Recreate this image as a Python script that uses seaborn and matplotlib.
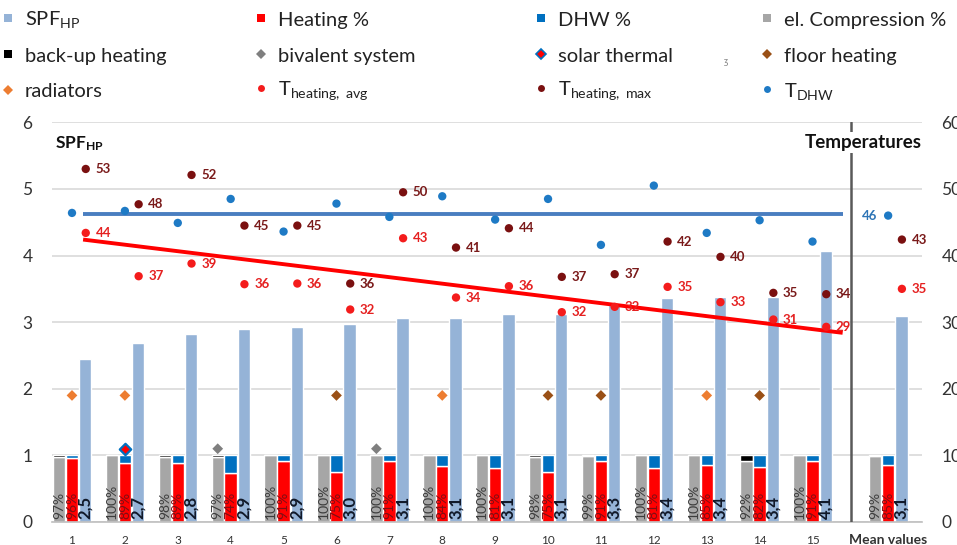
import numpy as np
import matplotlib
matplotlib.use("Agg")
import matplotlib.pyplot as plt
from matplotlib.lines import Line2D
import seaborn as sns

sns.set_style("white")
plt.rcParams['font.family'] = ['Lato', 'DejaVu Sans']
plt.rcParams['mathtext.fontset'] = 'custom'
plt.rcParams['mathtext.rm'] = 'Lato'
plt.rcParams['mathtext.bf'] = 'Lato:bold'
plt.rcParams['mathtext.it'] = 'Lato:italic'

# data (15 heat pumps + mean values)
categories = [str(i) for i in range(1, 16)] + ["Mean values"]
spf = [2.45, 2.68, 2.82, 2.90, 2.93, 2.97, 3.06, 3.07, 3.13, 3.13, 3.28, 3.37, 3.38, 3.38, 4.07, 3.10]
spf_labels = ["2,5", "2,7", "2,8", "2,9", "2,9", "3,0", "3,1", "3,1", "3,1", "3,1",
              "3,3", "3,4", "3,4", "3,4", "4,1", "3,1"]
compression = [97, 100, 98, 97, 100, 100, 100, 100, 100, 98, 99, 100, 100, 92, 100, 99]
backup = [3, 0, 2, 3, 0, 0, 0, 0, 0, 2, 1, 0, 0, 8, 0, 1]
heating = [96, 89, 89, 74, 91, 75, 91, 84, 81, 75, 91, 81, 85, 82, 91, 85]
dhw = [4, 11, 11, 26, 9, 25, 9, 16, 19, 25, 9, 19, 15, 18, 9, 15]

t_dhw = [46.4, 46.7, 44.9, 48.5, 43.6, 47.8, 45.8, 48.9, 45.4, 48.5, 41.6, 50.5, 43.4, 45.3, 42.1, 46.0]
t_max = [53.0, 47.7, 52.1, 44.5, 44.5, 35.8, 49.5, 41.2, 44.1, 36.8, 37.2, 42.1, 39.8, 34.4, 34.2, 42.4]
t_max_labels = [53, 48, 52, 45, 45, 36, 50, 41, 44, 37, 37, 42, 40, 35, 34, 43]
t_avg = [43.4, 36.9, 38.8, 35.7, 35.8, 31.9, 42.6, 33.7, 35.4, 31.5, 32.3, 35.3, 33.0, 30.4, 29.3, 35.0]
t_avg_labels = [44, 37, 39, 36, 36, 32, 43, 34, 36, 32, 32, 35, 33, 31, 29, 35]
t_dhw_mean_label = 46

# trend lines (start / end values, temperature axis)
dhw_trend = [46.2, 46.2]
avg_trend = [42.4, 28.4]

# system markers (category numbers)
radiators = [1, 2, 8, 13]
floor_heating = [6, 10, 11, 14]
bivalent = [4, 7]
solar_thermal = [2]
emitter_level = 1.9
system_level = 1.1

# colours
c_spf = '#95B3D7'
c_heat = '#FF0000'
c_dhw = '#0070C0'
c_comp = '#A6A6A6'
c_backup = '#000000'
c_biv = '#7F7F7F'
c_floor = '#9A5016'
c_rad = '#ED7D31'
c_tavg = '#F41C1C'
c_tmax = '#7A1010'
c_tdhw = '#1E7AC5'

pos = np.array(list(range(15)) + [15.43])
w = 0.235
off_l, off_r = -0.245, 0.25

fig = plt.figure(figsize=(9.57, 5.45), dpi=100)
ax = fig.add_axes([52 / 957, 1 - 522 / 545, 870 / 957, 400 / 545])
ax.set_xlim(-0.378, 16.07)
ax.set_ylim(0, 6.005)

comp = np.array(compression) / 100
ax.bar(pos + off_l, comp, w, color=c_comp, zorder=2)
ax.bar(pos + off_l, np.array(backup) / 100, w, bottom=comp, color=c_backup, zorder=2)
heat = np.array(heating) / 100
ax.bar(pos, heat, w, color=c_heat, zorder=2)
ax.bar(pos, np.array(dhw) / 100, w, bottom=heat, color=c_dhw, zorder=2)
ax.bar(pos + off_r, spf, w, color=c_spf, zorder=2)

for p, cv, hv, sl in zip(pos, compression, heating, spf_labels):
    ax.text(p + off_l, 0.05, f"{cv}%", rotation=90, ha='center', va='bottom',
            fontsize=10, color='#3C3C3C', zorder=4)
    ax.text(p, 0.05, f"{hv}%", rotation=90, ha='center', va='bottom',
            fontsize=10, color='#7E0E14', zorder=4)
    ax.text(p + off_r, 0.05, sl, rotation=90, ha='center', va='bottom',
            fontsize=12, fontweight='bold', color='#101828', zorder=4)

# emitter / system markers
sns.scatterplot(x=[pos[c - 1] for c in radiators], y=[emitter_level] * len(radiators), ax=ax,
                marker='D', s=30, color=c_rad, edgecolor='none', zorder=5)
sns.scatterplot(x=[pos[c - 1] for c in floor_heating], y=[emitter_level] * len(floor_heating), ax=ax,
                marker='D', s=30, color=c_floor, edgecolor='none', zorder=5)
sns.scatterplot(x=[pos[c - 1] + off_l for c in bivalent], y=[system_level] * len(bivalent), ax=ax,
                marker='D', s=30, color=c_biv, edgecolor='none', zorder=5)
sns.scatterplot(x=[pos[c - 1] for c in solar_thermal], y=[system_level] * len(solar_thermal), ax=ax,
                marker='D', s=34, color=c_heat, edgecolor=c_dhw, linewidth=1.6, zorder=5)

ax.set_yticks(range(7))
ax.yaxis.grid(True, color='#D9D9D9', lw=1.2)
ax.set_axisbelow(True)
for s in ['top', 'left', 'right']:
    ax.spines[s].set_visible(False)
ax.spines['bottom'].set_color('#BFBFBF')
ax.spines['bottom'].set_linewidth(1.2)
ax.set_xticks(pos)
ax.set_xticklabels(categories)
ax.tick_params(axis='x', length=0, pad=9, labelsize=8.5, labelcolor='#333333')
ax.tick_params(axis='y', length=0, pad=14, labelsize=12.5, labelcolor='#333333')
ax.get_xticklabels()[-1].set_fontweight('bold')
ax.get_xticklabels()[-1].set_fontsize(10)

# separator between single systems and mean values
ax.axvline(14.73, color='#595959', lw=1.8, zorder=3)
ax.text(16.07, 5.70, "Temperatures", ha='right', va='center', fontsize=13.5, fontweight='bold',
        color='#111111', zorder=6, bbox=dict(facecolor='white', edgecolor='none', pad=1.5))
ax.text(-0.32, 5.68, r"SPF$_{\mathbf{HP}}$", ha='left', va='center', fontsize=12.5,
        fontweight='bold', color='#111111', zorder=6)

# temperatures on secondary axis
ax2 = ax.twinx()
ax2.set_ylim(0, 60.05)
ax2.set_yticks(range(0, 61, 10))
ax2.tick_params(axis='y', length=0, pad=14, labelsize=12.5, labelcolor='#333333')
for s in ax2.spines.values():
    s.set_visible(False)

trend_x = [0.21, 14.57]
ax2.plot(trend_x, dhw_trend, color='#4A7EC0', lw=2.8, solid_capstyle='butt', zorder=3)
ax2.plot(trend_x, avg_trend, color='#FF0000', lw=2.8, solid_capstyle='butt', zorder=3)

sns.scatterplot(x=pos, y=t_dhw, ax=ax2, s=36, color=c_tdhw, edgecolor='none', zorder=5)
sns.scatterplot(x=pos + 0.26, y=t_max, ax=ax2, s=36, color=c_tmax, edgecolor='none', zorder=5)
sns.scatterplot(x=pos + 0.26, y=t_avg, ax=ax2, s=36, color=c_tavg, edgecolor='none', zorder=5)

for p, v, lab in zip(pos, t_max, t_max_labels):
    ax2.annotate(str(lab), (p + 0.26, v), xytext=(7, 0), textcoords='offset points',
                 va='center', ha='left', fontsize=9.5, fontweight='bold', color='#7A1A1A', zorder=6)
for p, v, lab in zip(pos, t_avg, t_avg_labels):
    ax2.annotate(str(lab), (p + 0.26, v), xytext=(7, 0), textcoords='offset points',
                 va='center', ha='left', fontsize=9.5, fontweight='bold', color='#E52020', zorder=6)
ax2.annotate(str(t_dhw_mean_label), (pos[-1], t_dhw[-1]), xytext=(-8, 0), textcoords='offset points',
             va='center', ha='right', fontsize=9.5, fontweight='bold', color='#2E75B6', zorder=6)
ax2.set_ylabel("")

# legend: four columns of three entries, each placed on its own row
def key(marker, color, size=6, edge=None):
    return Line2D([], [], linestyle='none', marker=marker, markersize=size, markerfacecolor=color,
                  markeredgecolor=edge if edge else color, markeredgewidth=1.2 if edge else 0)

columns = [
    (8, [key('s', c_spf), key('s', c_backup), key('D', c_rad, 5)],
     [r"SPF$_{\mathrm{HP}}$", "back-up heating", "radiators"]),
    (261, [key('s', c_heat), key('D', c_biv, 5), key('o', c_tavg, 5)],
     ["Heating %", "bivalent system", r"T$_{\mathrm{heating,\ avg}}$"]),
    (541, [key('s', c_dhw), key('D', c_heat, 5, c_dhw), key('o', c_tmax, 5)],
     ["DHW %", "solar thermal", r"T$_{\mathrm{heating,\ max}}$"]),
    (767, [key('s', c_comp), key('D', c_floor, 5), key('o', c_tdhw, 5)],
     ["el. Compression %", "floor heating", r"T$_{\mathrm{DHW}}$"]),
]
row_y = [20, 56, 91]
leg_fs = 14.5
for mx, handles, labels in columns:
    for h, lab, ry in zip(handles, labels, row_y):
        fig.legend([h], [lab], loc='center left',
                   bbox_to_anchor=((mx - 0.3 * leg_fs * 100 / 72) / 957, 1 - ry / 545),
                   frameon=False, fontsize=leg_fs, handlelength=0.6, handletextpad=0.55,
                   borderpad=0, borderaxespad=0, labelcolor='#222222')

fig.text(725 / 957, 1 - 62 / 545, "ʒ", fontsize=7, color='#8A8A8A', ha='center', va='center')

fig.savefig("out.png", dpi=100)
